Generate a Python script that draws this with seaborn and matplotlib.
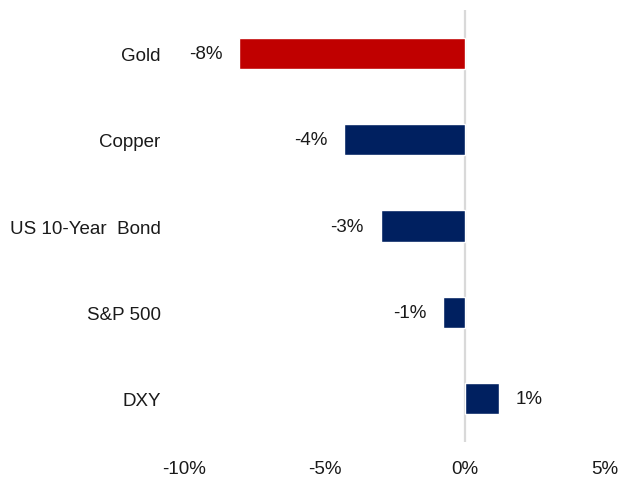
import matplotlib
matplotlib.use("Agg")
import matplotlib.pyplot as plt
import seaborn as sns
import pandas as pd

# Price change by asset
assets = ["Gold", "Copper", "US 10-Year  Bond", "S&P 500", "DXY"]
changes = [-8.05, -4.3, -3.0, -0.78, 1.23]
bar_colors = ["#C00000", "#002060", "#002060", "#002060", "#002060"]
x_ticks = [-10, -5, 0, 5]
x_tick_labels = ["-10%", "-5%", "0%", "5%"]

sns.set_theme(style="white")
plt.rcParams["font.family"] = ["Liberation Sans", "DejaVu Sans"]

df = pd.DataFrame({"asset": assets, "change": changes})

fig = plt.figure(figsize=(6.22, 4.81), dpi=100)
ax = fig.add_axes([0.296, 0.079, 0.677, 0.898])

sns.barplot(data=df, x="change", y="asset", hue="asset",
            palette=dict(zip(assets, bar_colors)), legend=False,
            orient="h", width=0.36, saturation=1, ax=ax)

ax.axvline(0, color="#D9D9D9", lw=1.6, zorder=0)

for cont in ax.containers:
    ax.bar_label(cont, labels=[f"{v:.0f}%" for v in cont.datavalues],
                 padding=12, fontsize=13.5, color="#1a1a1a")

ax.set_xlim(-10, 5)
ax.set_ylim(4.5, -0.5)
ax.set_xticks(x_ticks)
ax.set_xticklabels(x_tick_labels)
ax.tick_params(axis="x", length=0, pad=13, labelsize=13.5, labelcolor="#1a1a1a")
ax.tick_params(axis="y", length=0, pad=17, labelsize=13.5, labelcolor="#1a1a1a")
ax.set_xlabel("")
ax.set_ylabel("")
for s in ax.spines.values():
    s.set_visible(False)

fig.savefig("out.png", dpi=100)
